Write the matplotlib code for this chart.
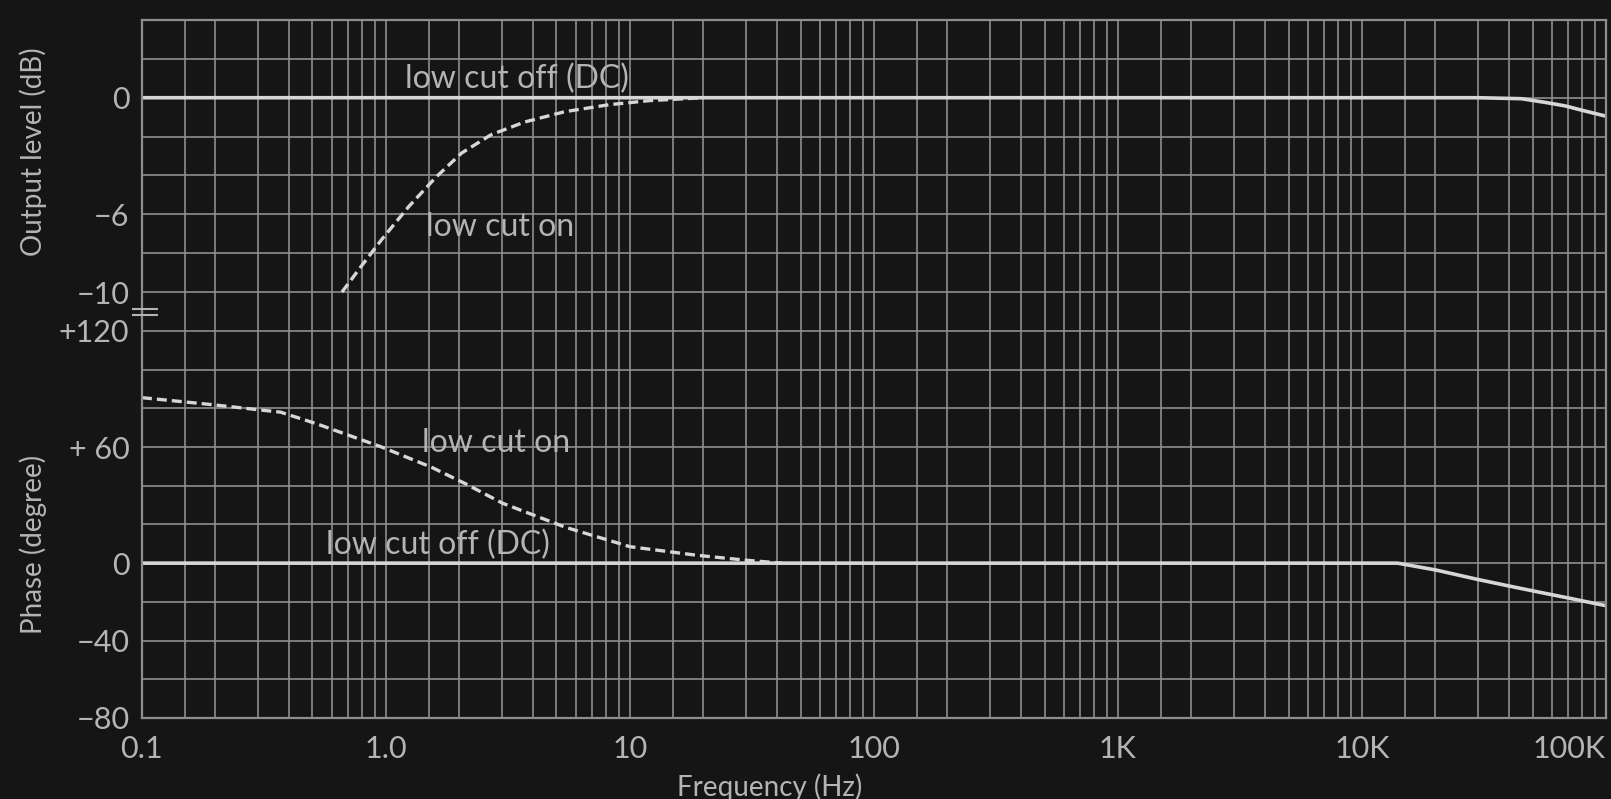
import numpy as np
import matplotlib.pyplot as plt
from matplotlib.lines import Line2D
from matplotlib.ticker import LogLocator, NullFormatter

plt.rcParams['font.family'] = ['Lato', 'DejaVu Sans']

# --- datos ---
# nivel de salida (dB)
freq_off_db = [0.1, 30000, 45000, 57000, 68000, 80000, 100000]
level_off_db = [0, 0, -0.05, -0.25, -0.42, -0.65, -0.95]

freq_on_db = [0.66, 0.8, 0.96, 1.24, 1.6, 2.04, 2.7, 3.7, 5.4, 8.2, 12, 20]
level_on_db = [-10, -8.6, -7.3, -5.6, -4.1, -2.85, -1.9, -1.25, -0.72, -0.36, -0.15, 0]

# fase (grados)
freq_off_ph = [0.1, 14000, 20000, 30000, 40000, 50000, 70000, 100000]
phase_off = [0, 0, -3.5, -8.5, -11.8, -14.3, -18, -22]

freq_on_ph = [0.1, 0.19, 0.37, 0.52, 0.96, 1.54, 2.12, 3.0, 5.45, 10, 19, 30, 42]
phase_on = [85.5, 82, 78, 72, 60, 49.5, 41, 31, 18.5, 8.5, 4, 1.5, 0]

freq_ticks = [0.1, 1, 10, 100, 1000, 10000, 100000]
freq_labels = ["0.1", "1.0", "10", "100", "1K", "10K", "100K"]
db_ticks = [0, -6, -10]
db_labels = ["0", "\u22126", "\u221210"]
phase_ticks = [120, 60, 0, -40, -80]
phase_labels = ["+120", "+ 60", "0", "\u221240", "\u221280"]

bg = "#151515"
grid_c = "#8e8e8e"
line_c = "#d6d6d6"
text_c = "#b4b4b4"
fs_tick = 22
fs_note = 23
fs_lab = 20

fig = plt.figure(figsize=(16.11, 7.99), dpi=100, facecolor=bg)
ax1 = fig.add_axes([0.0881, 0.6101, 0.9088, 0.3649])
ax2 = fig.add_axes([0.0881, 0.1014, 0.9088, 0.5087], sharex=ax1)

for ax in (ax1, ax2):
    ax.set_facecolor(bg)
    ax.set_xscale("log")
    ax.set_xlim(0.1, 100000)
    ax.xaxis.set_minor_locator(LogLocator(base=10, subs=[1.5, 2, 3, 4, 5, 6, 7, 8, 9]))
    ax.xaxis.set_minor_formatter(NullFormatter())
    ax.grid(True, which="both", color=grid_c, lw=1.2)
    ax.set_axisbelow(True)
    ax.tick_params(which="both", length=0, colors=text_c, labelsize=fs_tick)
    for s in ax.spines.values():
        s.set_color(grid_c)
        s.set_linewidth(1.6)

ax1.spines["bottom"].set_visible(False)
ax2.spines["top"].set_visible(False)

# panel de arriba: nivel
ax1.set_ylim(-11, 4)
ax1.set_yticks(db_ticks)
ax1.set_yticklabels(db_labels)
ax1.set_yticks(np.arange(-10, 4, 2), minor=True)
ax1.tick_params(axis="x", labelbottom=False)
ax1.tick_params(axis="y", pad=9)
ax1.plot(freq_off_db, level_off_db, color=line_c, lw=2.6)
ax1.plot(freq_on_db, level_on_db, color=line_c, lw=2.4, dashes=(3, 1.5))
ax1.text(1.2, 0.95, "low cut off (DC)", color=text_c, fontsize=fs_note, va="center", ha="left")
ax1.text(1.46, -6.65, "low cut on", color=text_c, fontsize=fs_note, va="center", ha="left")

# panel de abajo: fase
ax2.set_ylim(-80, 130)
ax2.set_yticks(phase_ticks)
ax2.set_yticklabels(phase_labels)
ax2.set_yticks(np.arange(-80, 130, 20), minor=True)
ax2.set_xticks(freq_ticks)
ax2.set_xticklabels(freq_labels)
ax2.get_xticklabels()[-1].set_ha("right")
ax2.tick_params(axis="y", pad=9)
ax2.tick_params(axis="x", pad=12)
ax2.plot(freq_off_ph, phase_off, color=line_c, lw=2.6)
ax2.plot(freq_on_ph, phase_on, color=line_c, lw=2.4, dashes=(3, 1.5))
ax2.text(1.40, 61.9, "low cut on", color=text_c, fontsize=fs_note, va="center", ha="left")
ax2.text(0.566, 9.3, "low cut off (DC)", color=text_c, fontsize=fs_note, va="center", ha="left")

# marca de corte del eje
for yb in (309, 315):
    fig.add_artist(Line2D([133 / 1611, 157 / 1611], [1 - yb / 799, 1 - yb / 799],
                          color=text_c, lw=1.5))

fig.text(33 / 1611, 1 - 152 / 799, "Output level (dB)", rotation=90, color=text_c,
         fontsize=fs_lab, ha="center", va="center")
fig.text(33 / 1611, 1 - 544 / 799, "Phase (degree)", rotation=90, color=text_c,
         fontsize=fs_lab, ha="center", va="center")
fig.text(770 / 1611, 1 - 773 / 799, "Frequency (Hz)", color=text_c,
         fontsize=fs_lab, ha="center", va="top")

plt.savefig("out.png", dpi=100, facecolor=bg)
